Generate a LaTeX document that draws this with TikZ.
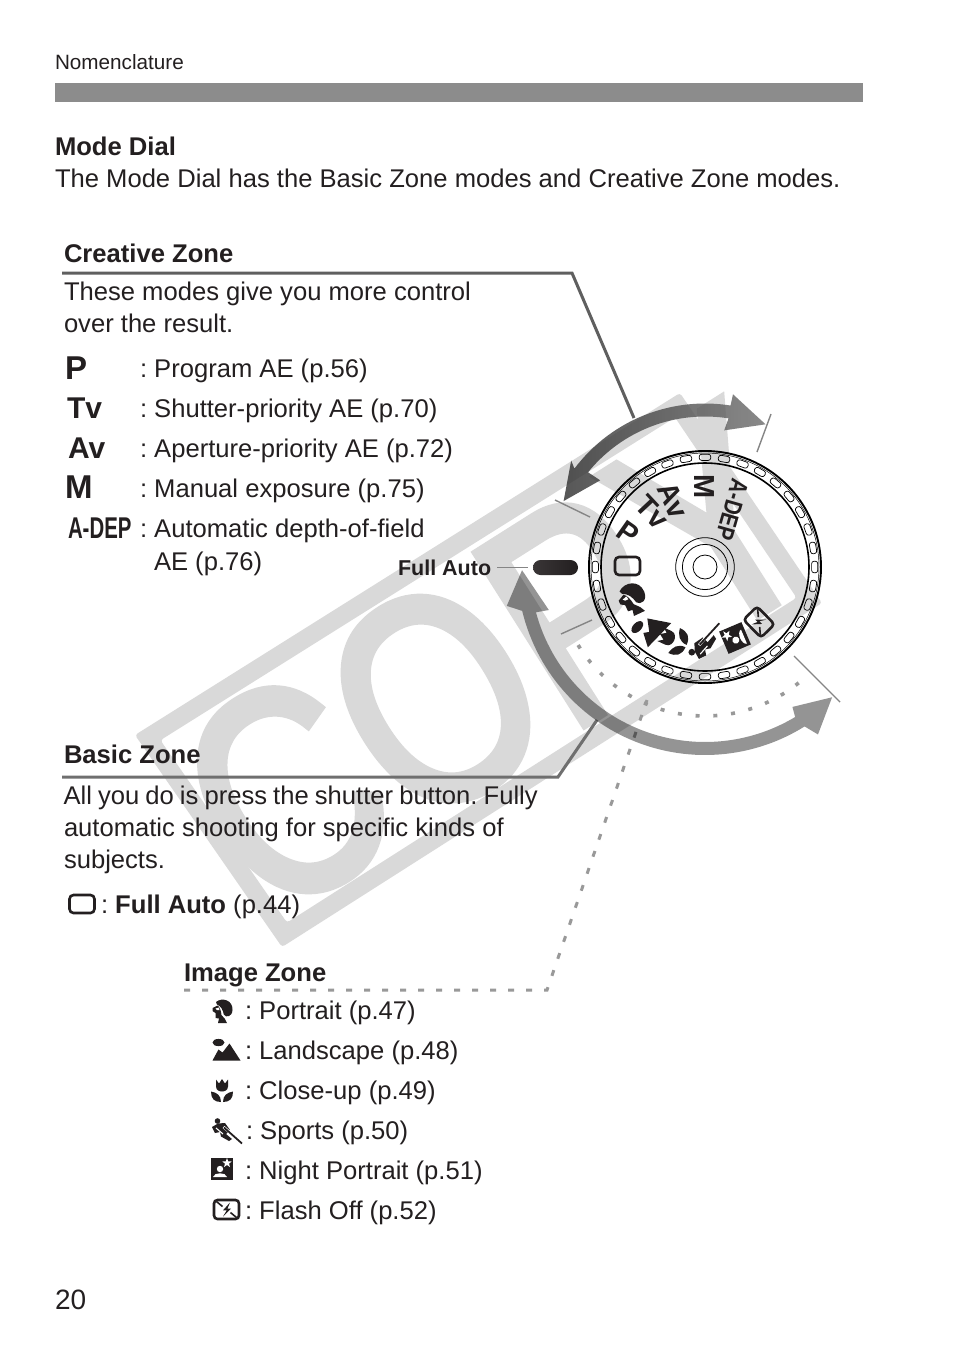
\documentclass[tikz,border=0pt]{standalone}
\usepackage{fontspec}
\setmainfont{Liberation Sans}
\newfontfamily\wmfont[FakeBold=2.9]{Liberation Sans}
\frenchspacing
\definecolor{ink}{HTML}{231F20}
\definecolor{wm}{HTML}{D9D9D9}
\definecolor{barc}{HTML}{8C8C8C}
\definecolor{leader}{HTML}{5F5F5F}
\definecolor{dashc}{HTML}{999999}
\definecolor{tickc}{HTML}{858585}
\tikzset{
  every node/.style={inner sep=0pt,outer sep=0pt,text=ink},
  body/.style={anchor=base west,font=\fontsize{25.6}{32}\selectfont},
  head/.style={anchor=base west,font=\fontsize{25.6}{32}\selectfont\bfseries},
  symb/.style={anchor=base west,font=\fontsize{30}{32}\selectfont\bfseries},
  symbw/.style={anchor=base west,font=\fontsize{33}{32}\selectfont\bfseries},
  dialsym/.style={font=\fontsize{29}{29}\selectfont\bfseries},
  ticks/.style={draw=tickc,line width=1.4pt},
  leaderline/.style={draw=leader,line width=3pt},
  zonedash/.style={draw=dashc,line width=3pt,dash pattern=on 6pt off 12pt},
  pics/iconfull/.style={code={\draw[ink,line width=2.6pt,rounded corners=4pt] (-12.5,-9) rectangle (12.5,9);}},
  pics/iconportrait/.style={code={
    \fill[ink] (-6,-9) .. controls (0,-14) and (11,-11) .. (10.5,-1) .. controls (10,6) and (4,7) .. (1.8,3.5) .. controls (1,-1) and (-1,-5) .. (-5,-6.5) -- cycle;
    \fill[ink] (-9.5,-3) -- (-4.5,-5.5) .. controls (-2,-4) and (-1,0) .. (-0.5,4) -- (3,8) -- (5,12) -- (-4,12) -- (-3,7.5) -- (-6.5,7) -- (-6.5,2) -- (-9.5,0) -- cycle;
    \fill[white] (-6.5,-2.5) -- (-3,-3.5) -- (-2.5,-1) -- (-5,-1) -- cycle;
  }},
  pics/iconland/.style={code={
    \fill[ink] (-8,-7) ellipse [x radius=6,y radius=3.6];
    \fill[ink] (-14,11) -- (-8,0) -- (-4,3) -- (3,-6) -- (14,11) -- cycle;
  }},
  pics/icontulip/.style={code={
    \fill[ink] (-6,-11) -- (-3,-7) -- (0,-11.5) -- (3,-7) -- (6,-11) -- (6,-4) .. controls (6,0) and (2,1) .. (0,1) .. controls (-2,1) and (-6,0) .. (-6,-4) -- cycle;
    \fill[ink] (-1,11.5) .. controls (-8,11.5) and (-11,8) .. (-11,1) .. controls (-5,2) and (-1,5) .. (-1,11.5) -- cycle;
    \fill[ink] (1,11.5) .. controls (8,11.5) and (11,8) .. (11,1) .. controls (5,2) and (1,5) .. (1,11.5) -- cycle;
  }},
  pics/iconsport/.style={code={
    \fill[ink] (-9.5,-10) circle (2.8);
    \fill[ink] (-15,-4) -- (-9,-7.5) -- (-2,-8) -- (3,-1) -- (-1,3) -- (5,8) -- (2,10) -- (-6,5.5) -- (-7,1) -- (-12,2) -- cycle;
    \draw[white,line width=1.1pt] (-11,-3) -- (-4,3);
    \draw[white,line width=2.8pt] (-3.5,-4) -- (14,10.5);
    \draw[ink,line width=1.8pt] (-3,-3.5) -- (15,12.5);
  }},
  pics/iconnight/.style={code={
    \fill[ink] (-11,-11) rectangle (11,11);
    \fill[white] (5,-11) -- (6.2,-7.6) -- (9.8,-7.5) -- (7,-5.4) -- (8,-2) -- (5,-4) -- (2,-2) -- (3,-5.4) -- (0.2,-7.5) -- (3.8,-7.6) -- cycle;
    \fill[white] (-2,0) circle (3.2);
    \fill[white] (-9,8) .. controls (-8,3) and (4,3) .. (5,8) -- cycle;
  }},
  pics/iconflash/.style={code={
    \draw[ink,line width=2.6pt,rounded corners=3.5pt] (-12.5,-9.5) rectangle (12.5,9.5);
    \draw[ink,line width=1.6pt] (-10,-8) -- (-4,-3) (10,8) -- (4,3);
    \fill[ink] (3.5,-7) -- (-3.5,0.8) -- (0.3,0.8) -- (-3.5,7) -- (4.5,-1) -- (1,-1) -- cycle;
  }}
}
\begin{document}
\begin{tikzpicture}[x=1pt,y=-1pt]
\useasboundingbox (0,0) rectangle (954,1345);
\fill[white] (0,0) rectangle (954,1345);

% watermark
\fill[wm,even odd rule,rounded corners=3pt] (135,735) -- (680,393) -- (822,603) -- (282,947) -- cycle
  (160.4,740.2) -- (675,417.4) -- (796.6,597.8) -- (287,922.6) -- cycle;
\node[rotate=32.3,text=wm] (wmark) at (497,660) {\scalebox{.8}[1]{\fontsize{295}{295}\wmfont COPY}};

% page head
\node[anchor=base west,font=\fontsize{20.7}{24}\selectfont] (nomen) at (55,69) {Nomenclature};
\fill[barc] (55,83) rectangle (863,102);
\node[head] (modedial) at (55,155) {Mode Dial};
\node[body] (modeintro) at (55,187) {The Mode Dial has the Basic Zone modes and Creative Zone modes.};

% leader coordinates
\coordinate (czL) at (62,273);
\coordinate (czB) at (572,273);
\coordinate (czE) at (634,418);
\coordinate (bzL) at (62,777);
\coordinate (bzB) at (558,777);
\coordinate (bzE) at (597,720);
\coordinate (izL) at (184,990);
\coordinate (izB) at (547,990);
\coordinate (izE) at (647,700);
\draw[leaderline,draw=leader] (czL) -- (czB) -- (czE);
\draw[leaderline,draw=leader!90] (bzL) -- (bzB) -- (bzE);
\draw[zonedash] (izL) -- (izB) -- (izE);

% creative zone
\node[head] (cz) at (64,262) {Creative Zone};
\node[body] (cz1) at (64,300) {These modes give you more control};
\node[body] (cz2) at (64,332) {over the result.};
\node[symbw] (sP) at (65,379) {P};
\node[symb] (sTv) at (67,418) {Tv};
\node[symb] (sAv) at (68,458) {Av};
\node[symbw] (sM) at (65,498) {M};
\node[symb] (sAD) at (68,538) {\scalebox{.68}[1]{A-DEP}};
\node[body] (tP) at (140,377) {: Program AE (p.56)};
\node[body] (tTv) at (140,417) {: Shutter-priority AE (p.70)};
\node[body] (tAv) at (140,457) {: Aperture-priority AE (p.72)};
\node[body] (tM) at (140,497) {: Manual exposure (p.75)};
\node[body] (tAD) at (140,537) {: Automatic depth-of-field};
\node[body] (tAD2) at (154,570) {AE (p.76)};

% basic zone
\node[head] (bz) at (64,763) {Basic Zone};
\node[body] (bz1) at (63.5,804) {\spaceskip=6.1pt All you do is press the shutter button. Fully};
\node[body] (bz2) at (64,836) {automatic shooting for specific kinds of};
\node[body] (bz3) at (64,868) {subjects.};
\pic at (82,904) {iconfull};
\node[body] (bz4) at (101,913) {: \textbf{Full Auto} (p.44)};

% image zone
\node[head] (iz) at (184,981) {Image Zone};
\pic at (222,1011) {iconportrait};
\pic at (226.5,1049.5) {iconland};
\pic at (222,1090.5) {icontulip};
\pic at (227,1131) {iconsport};
\pic at (222,1169) {iconnight};
\pic at (226.5,1209.5) {iconflash};
\node[body] (iz1) at (245,1019) {: Portrait (p.47)};
\node[body] (iz2) at (245,1059) {: Landscape (p.48)};
\node[body] (iz3) at (245,1099) {: Close-up (p.49)};
\node[body] (iz4) at (246,1139) {: Sports (p.50)};
\node[body] (iz5) at (245,1179) {: Night Portrait (p.51)};
\node[body] (iz6) at (245,1219) {: Flash Off (p.52)};
\node[anchor=base west,font=\fontsize{28}{30}\selectfont] (pageno) at (55,1309) {20};

% full auto index
\node[anchor=base west,font=\fontsize{21.5}{24}\selectfont\bfseries] (fa) at (398,575) {Full Auto};
\node[draw=none,minimum width=45pt,minimum height=15pt,rounded corners=7.5pt,left color=ink!90,right color=ink,anchor=center] (pill) at (555.5,567.5) {};
\draw[tickc,line width=1.4pt] ([xshift=6pt]fa.east |- pill.west) -- ([xshift=-5pt]pill.west);

\begin{scope}[shift={(705,567)}]
  % ticks
  \draw[ticks] (-150,-67) -- (-115,-50);
  \draw[ticks] (52,-115) -- (66,-153);
  \draw[ticks] (-144,67) -- (-113,53);
  \draw[ticks] (89,89) -- (135,135);
  % dotted arc
  \draw[dashc,line width=3.6pt,dash pattern=on 4pt off 13.8pt] plot[domain=148.4:46,samples=50] (\x:149);
  % creative arrow
  \shade[left color=black!82,right color=black!58,opacity=.8]
    (205:156) -- (218.5:171) -- (217:163.5) -- plot[domain=217:279,samples=40] (\x:163.5)
    -- (279.2:175) -- (293:155) -- (278:138) -- plot[domain=279:219,samples=40] (\x:150.5)
    -- (219.6:136) -- cycle;
  % basic arrow
  \fill[black,opacity=.42]
    (179:183) -- (168.9:202) -- (166.5:188) -- plot[domain=166.5:58,samples=60] (\x:188)
    -- (56:202) -- (45.7:182) -- (58:165) -- (59:175) -- plot[domain=59:165,samples=60] (\x:175)
    -- (164.6:162) -- cycle;
  % dial
  \draw[black,line width=1.9pt] (0,0) circle (116);
  \draw[black,line width=.5pt] (0,0) circle (114);
  \draw[black,line width=1.6pt] (0,0) circle (104);
  \foreach \a in {0,10,...,350}{
    \draw[black,line width=.7pt,rounded corners=2.5pt,rotate=\a] (106.6,-5.8) rectangle (112.8,5.8);
  }
  \draw[black,line width=.8pt] (0,0) circle (29.3) (0,0) circle (22.6) (0,0) circle (12);
\end{scope}

% dial labels
\node[dialsym,rotate=-35] (dP) at (628,533) {P};
\node[dialsym,rotate=-47] (dTv) at (652,512) {Tv};
\node[dialsym,rotate=-64] (dAv) at (673,500) {Av};
\node[dialsym,rotate=-90] (dM) at (704,487) {M};
\node[dialsym,rotate=-106,font=\fontsize{25}{25}\selectfont\bfseries] (dAD) at (732,510) {\scalebox{.8}[1]{A-DEP}};
\pic at (627.5,566) {iconfull};
\pic[rotate=25,scale=1.35] at (632,599) {iconportrait};
\pic[rotate=46,scale=1.2] at (650,626) {iconland};
\pic[rotate=65,scale=1.25] at (673,640) {icontulip};
\pic[rotate=89,scale=1.2] at (704,641) {iconsport};
\pic[rotate=113,scale=1.1] at (735,638) {iconnight};
\pic[rotate=134.5,scale=1.0] at (759,622) {iconflash};
\end{tikzpicture}
\end{document}
